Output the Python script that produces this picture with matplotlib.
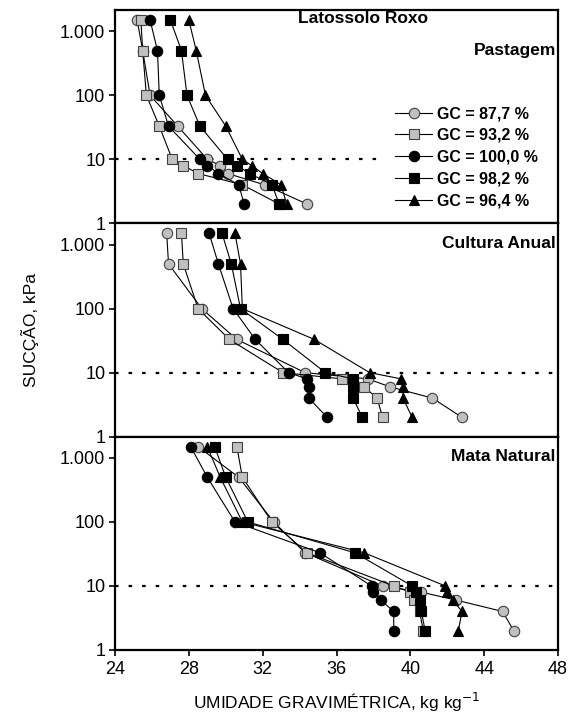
import matplotlib
matplotlib.use('Agg')
import matplotlib.pyplot as plt
from matplotlib.ticker import FixedLocator, NullLocator

plt.rcParams['font.family'] = ['Liberation Sans', 'DejaVu Sans']

# ---------------- data ----------------
suction = [1500, 500, 100, 33, 10, 8, 6, 4, 2]  # kPa
labels = ['GC = 87,7 %', 'GC = 93,2 %', 'GC = 100,0 %', 'GC = 98,2 %', 'GC = 96,4 %']

# Pastagem
past_877 = [25.2, 25.5, 25.9, 27.4, 29.0, 29.7, 30.1, 32.1, 34.4]
past_932 = [25.4, 25.5, 25.7, 26.4, 27.1, 27.7, 28.5, 30.9, 32.9]
past_1000 = [25.9, 26.3, 26.4, 26.9, 28.6, 29.0, 29.6, 30.7, 31.0]
past_982 = [27.0, 27.6, 27.9, 28.6, 30.1, 30.6, 31.3, 32.5, 32.9]
past_964 = [28.0, 28.4, 28.9, 30.0, 30.9, 31.4, 32.0, 33.0, 33.3]

# Cultura Anual
cult_877 = [26.8, 26.9, 28.7, 30.6, 34.3, 37.7, 38.9, 41.2, 42.8]
cult_932 = [27.6, 27.7, 28.5, 30.2, 33.1, 36.3, 37.5, 38.2, 38.5]
cult_1000 = [29.1, 29.6, 30.4, 31.6, 33.4, 34.4, 34.5, 34.5, 35.5]
cult_982 = [29.8, 30.3, 30.8, 33.1, 35.4, 36.9, 36.9, 36.9, 37.4]
cult_964 = [30.5, 30.8, 30.9, 34.8, 37.8, 39.5, 39.6, 39.6, 40.1]

# Mata Natural
mata_877 = [28.5, 30.7, 32.6, 34.3, 38.5, 40.6, 42.5, 45.0, 45.6]
mata_932 = [30.6, 30.9, 32.5, 34.4, 39.1, 40.0, 40.2, 40.5, 40.7]
mata_1000 = [28.1, 29.0, 30.5, 35.1, 37.9, 38.0, 38.4, 39.1, 39.1]
mata_982 = [29.4, 30.0, 31.2, 37.0, 40.1, 40.3, 40.5, 40.6, 40.8]
mata_964 = [29.0, 29.7, 30.9, 37.5, 41.9, 42.0, 42.3, 42.8, 42.6]

panels = [
    ('Pastagem', [past_877, past_932, past_1000, past_982, past_964]),
    ('Cultura Anual', [cult_877, cult_932, cult_1000, cult_982, cult_964]),
    ('Mata Natural', [mata_877, mata_932, mata_1000, mata_982, mata_964]),
]

x_ticks = [24, 28, 32, 36, 40, 44, 48]
y_ticks = [1, 10, 100, 1000]
y_ticklabels = ['1', '10', '100', '1.000']

# ---------------- styles ----------------
gray = '#c0c0c0'
styles = [
    dict(marker='o', mfc=gray, mec='#404040'),
    dict(marker='s', mfc=gray, mec='#404040'),
    dict(marker='o', mfc='black', mec='black'),
    dict(marker='s', mfc='black', mec='black'),
    dict(marker='^', mfc='black', mec='black'),
]

W, H = 575, 720
fig = plt.figure(figsize=(W / 100, H / 100), dpi=100)

left_px, right_px = 115, 558
top_px, bottom_px = 10, 650
ph = (bottom_px - top_px) / 3

axes = []
for i, (name, series) in enumerate(panels):
    y0 = top_px + (i + 1) * ph  # bottom pixel of this panel
    ax = fig.add_axes([left_px / W, 1 - y0 / H, (right_px - left_px) / W, ph / H])
    axes.append(ax)
    for vals, st, lab in zip(series, styles, labels):
        ax.plot(vals, suction, color='black', lw=0.8, ms=7.5, mew=0.8,
                label=lab, **st)
    ax.set_yscale('log')
    ax.set_ylim(1, 2150)
    ax.set_xlim(24, 48)
    ax.yaxis.set_major_locator(FixedLocator(y_ticks))
    ax.yaxis.set_minor_locator(NullLocator())
    ax.set_yticklabels(y_ticklabels)
    ax.xaxis.set_major_locator(FixedLocator(x_ticks))
    for sp in ax.spines.values():
        sp.set_linewidth(1.6)
    ax.tick_params(axis='y', direction='out', length=4, width=1.2, labelsize=13, pad=3)
    if i < 2:
        ax.tick_params(axis='x', bottom=False, labelbottom=False)
    else:
        ax.tick_params(axis='x', direction='out', length=4, width=1.2, labelsize=13, pad=4)
    if i == 0:
        ax.plot([24, 38.3], [10, 10], color='black', lw=1.6, ls=(0, (1.6, 4.5)), zorder=1)
    else:
        ax.axhline(10, color='black', lw=1.6, ls=(0, (1.6, 4.5)), zorder=1)
    ax.text(0.995, 0.81 if i == 0 else 0.905, name, transform=ax.transAxes,
            ha='right', va='center', fontsize=12.5, fontweight='bold')

axes[0].text(0.56, 0.962, 'Latossolo Roxo', transform=axes[0].transAxes,
             ha='center', va='center', fontsize=12.5, fontweight='bold')

leg = axes[0].legend(loc='center left', bbox_to_anchor=(0.615, 0.31), frameon=False,
                     prop={'weight': 'bold', 'size': 11.5}, handlelength=2.3,
                     handletextpad=0.3, labelspacing=0.42, borderpad=0, numpoints=1)

axes[2].set_xlabel('UMIDADE GRAVIMÉTRICA, kg kg$^{-1}$', fontsize=12.5, labelpad=9)
fig.text(30 / W, 1 - 330 / H, 'SUCÇÃO, kPa', rotation=90, ha='center', va='center', fontsize=12.5)

fig.savefig('out.png', dpi=100)
